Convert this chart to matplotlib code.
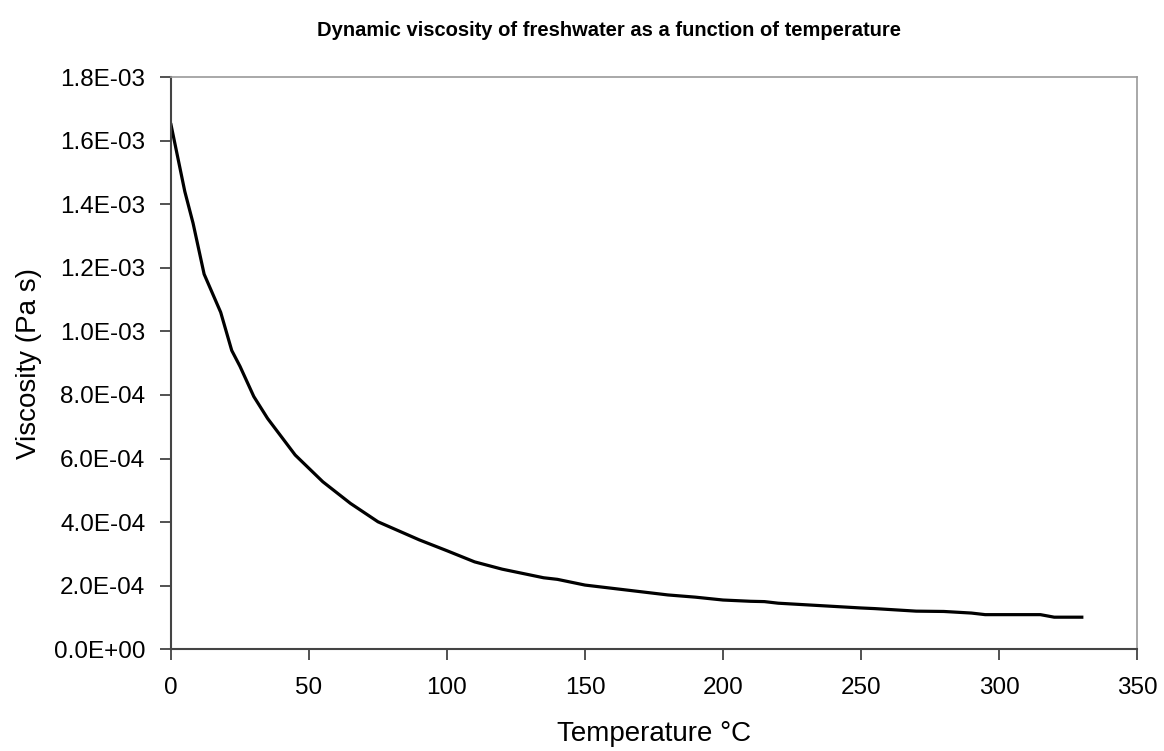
import matplotlib
matplotlib.use("Agg")
import matplotlib.pyplot as plt
from matplotlib.ticker import FuncFormatter

temperature_c = [0, 5, 8, 12, 18, 22, 25, 30, 35, 45, 55, 65, 75, 90, 100, 110, 120,
                 135, 140, 150, 180, 190, 200, 210, 215, 220, 250, 255, 270, 280,
                 290, 295, 315, 320, 330]
viscosity_pa_s = [1.65e-3, 1.44e-3, 1.34e-3, 1.18e-3, 1.06e-3, 0.94e-3, 0.89e-3, 0.795e-3,
                  0.726e-3, 0.611e-3, 0.527e-3, 0.459e-3, 0.401e-3, 0.344e-3, 0.31e-3,
                  0.275e-3, 0.252e-3, 0.225e-3, 0.22e-3, 0.202e-3, 0.171e-3, 0.164e-3,
                  0.155e-3, 0.151e-3, 0.15e-3, 0.145e-3, 0.13e-3, 0.128e-3, 0.12e-3,
                  0.119e-3, 0.114e-3, 0.109e-3, 0.109e-3, 0.101e-3, 0.101e-3]
x_ticks = [0, 50, 100, 150, 200, 250, 300, 350]
y_ticks = [0, 2e-4, 4e-4, 6e-4, 8e-4, 1.0e-3, 1.2e-3, 1.4e-3, 1.6e-3, 1.8e-3]

plt.rcParams['font.family'] = ['Liberation Sans', 'DejaVu Sans']

fig = plt.figure(figsize=(11.64, 7.51), dpi=100)
ax = fig.add_axes([171/1164, 1 - 649.3/751, (1137-171)/1164, (649.3-77)/751])

ax.plot(temperature_c, viscosity_pa_s, color='black', linewidth=2.3, solid_joinstyle='round')

ax.set_xlim(0, 350)
ax.set_ylim(0, 1.8e-3)
ax.set_xticks(x_ticks)
ax.set_yticks(y_ticks)

def sci(v, pos):
    return f"{v:.1E}"
ax.yaxis.set_major_formatter(FuncFormatter(sci))

ax.tick_params(axis='both', direction='out', length=8, width=1.2, colors='#333333',
               labelcolor='black', labelsize=17.5)
ax.tick_params(axis='y', pad=10.5)
ax.tick_params(axis='x', pad=12)

for side in ['left', 'bottom']:
    ax.spines[side].set_color('#444444')
    ax.spines[side].set_linewidth(1.5)
for side in ['top', 'right']:
    ax.spines[side].set_color('#999999')
    ax.spines[side].set_linewidth(1.2)

ax.set_xlabel('Temperature °C', fontsize=20, labelpad=16)
ax.set_ylabel('Viscosity (Pa s)', fontsize=20)
ax.yaxis.set_label_coords(-(171 - 42) / 966, 0.5)

fig.text(609/1164, 1 - 31/751, 'Dynamic viscosity of freshwater as a function of temperature',
         ha='center', va='center', fontsize=14.5, fontweight='bold')

fig.savefig('out.png', dpi=100)
